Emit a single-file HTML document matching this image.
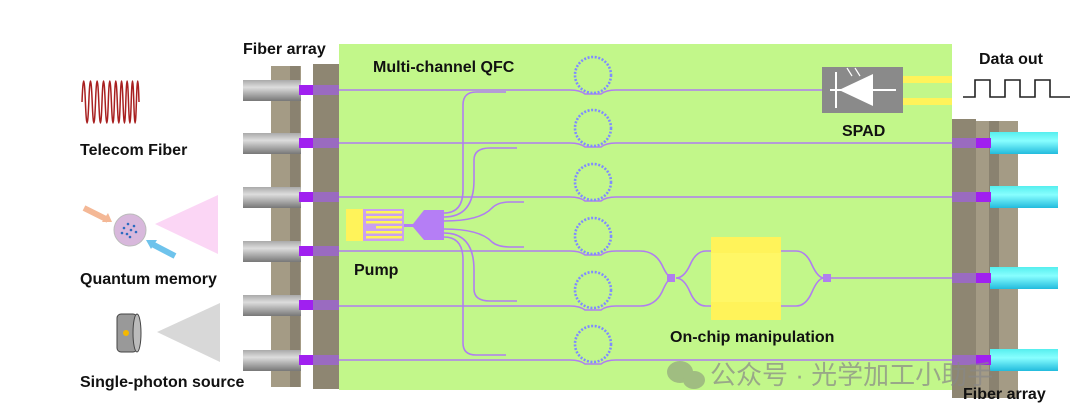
<!DOCTYPE html>
<html><head><meta charset="utf-8"><style>
html,body{margin:0;padding:0;background:#fff;width:1080px;height:416px;overflow:hidden}
svg{display:block}
text{font-family:"Liberation Sans","Noto Sans CJK SC",sans-serif;font-weight:bold;fill:#111}
</style></head><body>
<svg width="1080" height="416" viewBox="0 0 1080 416">
<defs>
<linearGradient id="gf" x1="0" y1="0" x2="0" y2="1"><stop offset="0" stop-color="#aaa"/><stop offset=".35" stop-color="#ddd"/><stop offset="1" stop-color="#777"/></linearGradient>
<linearGradient id="cf" x1="0" y1="0" x2="0" y2="1"><stop offset="0" stop-color="#5ee"/><stop offset=".4" stop-color="#8ff"/><stop offset="1" stop-color="#2bd"/></linearGradient>
</defs>
<rect x="339" y="44" width="613" height="346" fill="#c2f78a"/>
<rect x="271" y="66" width="30" height="321" fill="#a49b85"/>
<rect x="290" y="66" width="10" height="321" fill="#8a8270"/>
<rect x="313" y="64" width="26" height="325" fill="#8e8672"/>
<g id="lf">
<rect x="243" y="80" width="58" height="21" fill="url(#gf)"/>
<rect x="299" y="85" width="15" height="10" fill="#a020f0"/>
<rect x="313" y="85" width="26" height="10" fill="#9a6bc0"/>
</g>
<use href="#lf" y="53"/><use href="#lf" y="107"/><use href="#lf" y="161"/><use href="#lf" y="215"/><use href="#lf" y="270"/>
<rect x="952" y="119" width="24" height="279" fill="#8e8672"/>
<rect x="976" y="121" width="42" height="277" fill="#a49b85"/>
<rect x="989" y="121" width="10" height="277" fill="#8a8270"/>
<g id="rf">
<rect x="990" y="132" width="68" height="22" fill="url(#cf)"/>
<rect x="952" y="138" width="25" height="10" fill="#9a6bc0"/>
<rect x="976" y="138" width="15" height="10" fill="#a020f0"/>
</g>
<use href="#rf" y="54"/><use href="#rf" y="135"/><use href="#rf" y="217"/>
<g fill="none" stroke="#b07ef0" stroke-width="1.6">
<path d="M339 90H570Q580 90 585 94H601Q606 90 616 90H822"/>
<path d="M339 143H570Q580 143 585 147H601Q606 143 616 143H952"/>
<path d="M339 197H570Q580 197 585 201H601Q606 197 616 197H952"/>
<path d="M339 251H570Q580 251 585 255H601Q606 251 616 251H640Q655 251 662 265Q668 278 672 278"/>
<path d="M339 306H570Q580 306 585 310H601Q606 306 616 306H640Q655 306 662 292Q668 278 672 278"/>
<path d="M339 360H570Q580 360 585 364H601Q606 360 616 360H952"/>
<path d="M676 278Q684 278 690 265Q696 251 706 251H796Q806 251 812 265Q818 278 824 278"/>
<path d="M676 278Q684 278 690 292Q696 306 706 306H796Q806 306 812 292Q818 278 824 278"/>
<path d="M830 278H952"/>
<path d="M444 213Q463 213 463 190V105Q463 92 476 92H506"/>
<path d="M444 217Q474 217 474 180V160Q474 148 490 148H517"/>
<path d="M444 221Q480 221 492 208Q498 202 510 202H524"/>
<path d="M444 229Q480 229 492 242Q498 247 510 247H524"/>
<path d="M444 233Q474 233 474 270V289Q474 301 490 301H517"/>
<path d="M444 237Q463 237 463 260V343Q463 355 476 355H506"/>
</g>
<g fill="none" stroke="#7f8cff" stroke-width="2.6" stroke-dasharray="2 1.6">
<circle cx="593" cy="75" r="18"/><circle cx="593" cy="128" r="18"/><circle cx="593" cy="182" r="18"/>
<circle cx="593" cy="236" r="18"/><circle cx="593" cy="290" r="18"/><circle cx="593" cy="344" r="18"/>
</g>
<rect x="667" y="274" width="8" height="8" fill="#b07ef0"/>
<rect x="823" y="274" width="8" height="8" fill="#b07ef0"/>
<rect x="711" y="237" width="70" height="83" fill="#fff35a"/>
<rect x="711" y="253" width="70" height="49" fill="#fff766"/>
<rect x="346" y="209" width="58" height="32" fill="#c9a0f0"/>
<rect x="346" y="209" width="17" height="32" fill="#fff35a"/>
<g fill="#fff35a"><rect x="366" y="211" width="36" height="2.5"/><rect x="366" y="216" width="36" height="2.5"/><rect x="366" y="221" width="36" height="2.5"/><rect x="376" y="226" width="26" height="2.5"/><rect x="366" y="231" width="36" height="2.5"/><rect x="366" y="236" width="36" height="2.5"/></g>
<path d="M404 224L413 224L424 210H444V240H424L413 227L404 227Z" fill="#b57ef5"/>
<rect x="903" y="76" width="49" height="7" fill="#fff35a"/>
<rect x="903" y="98" width="49" height="7" fill="#fff35a"/>
<rect x="822" y="67" width="81" height="46" fill="#8a8a8a"/>
<path d="M830 90H896M836 72V108" stroke="#fff" stroke-width="2"/>
<path d="M873 74L873 106L839 90Z" fill="#fff"/>
<path d="M847 68L852 76M855 68L860 76" stroke="#fff" stroke-width="1.2"/>
<path d="M963 97H975V80H990V97H1005V80H1020V97H1035V80H1050V97H1070" fill="none" stroke="#222" stroke-width="1.6"/>
<path d="M82 102 Q83.7 60 85.4 102 T88.8 102 T92.2 102 T95.5 102 T98.8 102 T102 102 T105.2 102 T108.3 102 T111.4 102 T114.4 102 T117.3 102 T120.2 102 T123 102 T125.8 102 T128.5 102 T131.2 102 T133.8 102 T136.4 102 T139 102" fill="none" stroke="#a82020" stroke-width="1.5"/>
<path d="M155 224L218 195V254Z" fill="#fbd6f5"/>
<circle cx="130" cy="230" r="16" fill="#d8b8dc" stroke="#bbb"/>
<g fill="#2b6cc0"><circle cx="124" cy="228" r="1.3"/><circle cx="128" cy="224" r="1.3"/><circle cx="131" cy="230" r="1.3"/><circle cx="127" cy="234" r="1.3"/><circle cx="134" cy="226" r="1.3"/><circle cx="136" cy="232" r="1.3"/><circle cx="130" cy="237" r="1.3"/><circle cx="122" cy="233" r="1.3"/></g>
<path d="M84 208L108 220" stroke="#f4b896" stroke-width="6"/><path d="M112 222L102 222L108 213Z" fill="#f4b896"/>
<path d="M175 256L152 244" stroke="#6ec3ec" stroke-width="6"/><path d="M146 240L157 240L151 249Z" fill="#6ec3ec"/>
<path d="M157 332L220 303V362Z" fill="#d8d8d8"/>
<rect x="117" y="314" width="20" height="38" rx="4" fill="#999" stroke="#444"/>
<ellipse cx="137" cy="333" rx="4" ry="19" fill="#bbb" stroke="#444"/>
<circle cx="126" cy="333" r="3" fill="#f5b800"/>
<text x="243" y="54" font-size="16">Fiber array</text>
<text x="373" y="72" font-size="16">Multi-channel QFC</text>
<text x="354" y="275" font-size="16">Pump</text>
<text x="842" y="136" font-size="16">SPAD</text>
<text x="979" y="64" font-size="16">Data out</text>
<text x="670" y="342" font-size="16">On-chip manipulation</text>
<text x="963" y="399" font-size="16">Fiber array</text>
<text x="80" y="155" font-size="16">Telecom Fiber</text>
<text x="80" y="284" font-size="16">Quantum memory</text>
<text x="80" y="387" font-size="16">Single-photon source</text>
<g opacity="0.45"><ellipse cx="680" cy="372" rx="13" ry="11" fill="#777"/><ellipse cx="694" cy="380" rx="11" ry="9" fill="#777"/></g>
<text x="710" y="384" font-size="26" style="font-weight:normal;fill:#888;opacity:.7">公众号 · 光学加工小助手</text>
</svg>
</body></html>
